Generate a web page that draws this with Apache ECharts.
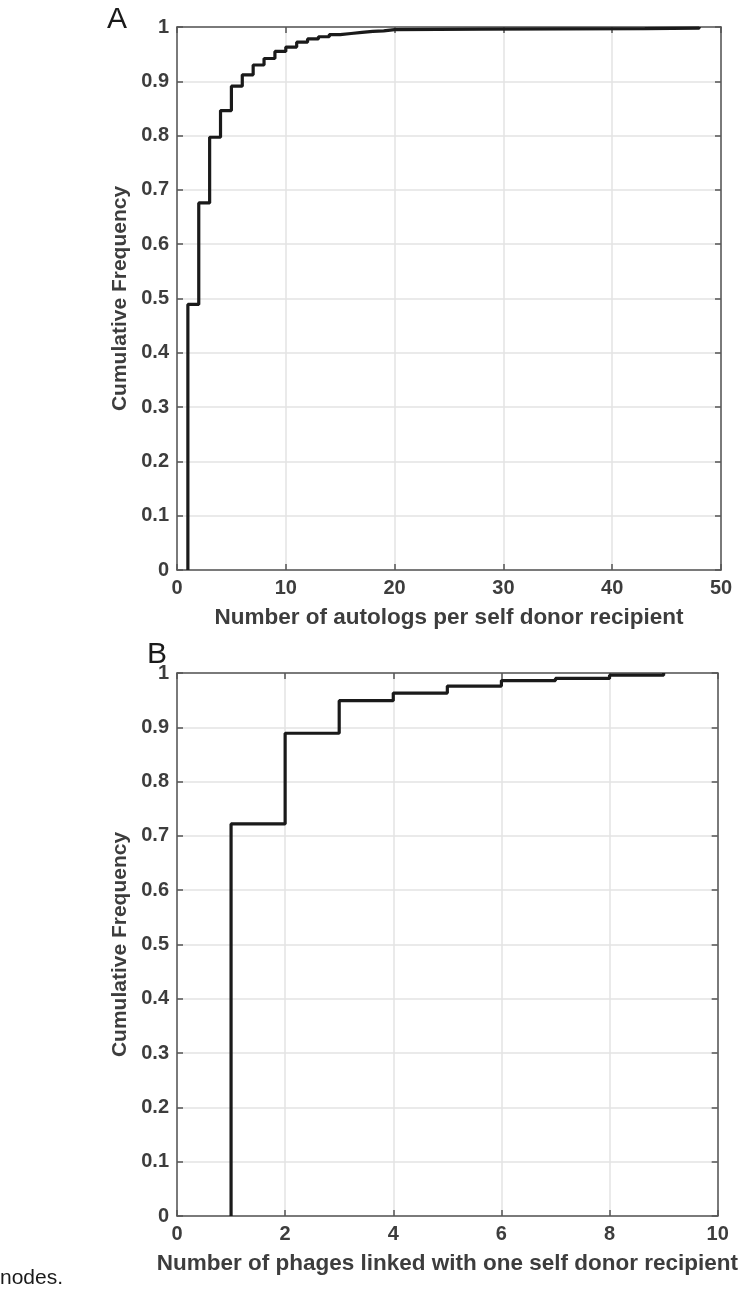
<!DOCTYPE html>
<html>
<head>
<meta charset="utf-8">
<script src="https://cdn.jsdelivr.net/npm/echarts@6/dist/echarts.min.js"></script>
<style>
html,body{margin:0;padding:0;background:#fff;}
#c{width:740px;height:1298px;}
</style>
</head>
<body>
<div id="c"></div>
<script>
// Panel A: cumulative frequency of autologs per self donor recipient
const autologX = [1, 1, 2, 3, 4, 5, 6, 7, 8, 9, 10, 11, 12, 13, 14, 15, 16, 17, 18, 19, 20, 28, 43, 48];
const autologY = [0, 0.489, 0.676, 0.797, 0.846, 0.891, 0.912, 0.930, 0.942, 0.955, 0.963, 0.972, 0.978, 0.982, 0.986, 0.988, 0.990, 0.992, 0.993, 0.995, 0.996, 0.997, 0.998, 1.0];
// Panel B: cumulative frequency of phages linked with one self donor recipient
const phageX = [1, 1, 2, 3, 4, 5, 6, 7, 8, 9];
const phageY = [0, 0.722, 0.889, 0.949, 0.963, 0.976, 0.986, 0.990, 0.996, 1.0];

const xTitleA = 'Number of autologs per self donor recipient';
const xTitleB = 'Number of phages linked with one self donor recipient';
const yTitle = 'Cumulative Frequency';

const FONT = '"Liberation Sans", Arial, Helvetica, sans-serif';
const TXT = '#3d3d3d';
const AX = '#555555';
const GRID = '#e3e3e3';

const gridsPx = [
  {left: 177, top: 27, width: 544, height: 543},
  {left: 177, top: 673, width: 544, height: 543}
];
const xSpec = [{min: 0, max: 50, interval: 10}, {min: 0, max: 10, interval: 2}];

const xAxes = [], yAxes = [];
[0, 1].forEach(i => {
  xAxes.push({
    type: 'value', gridIndex: i, position: 'bottom',
    min: xSpec[i].min, max: xSpec[i].max, interval: xSpec[i].interval,
    name: i === 0 ? xTitleA : xTitleB, nameLocation: 'middle', nameGap: 36,
    nameTextStyle: {fontFamily: FONT, fontWeight: 'bold', fontSize: 22.5, color: TXT},
    axisLine: {show: true, onZero: false, lineStyle: {color: AX, width: 1.5}},
    axisTick: {show: true, inside: true, length: 6, lineStyle: {color: AX, width: 1.5}},
    axisLabel: {fontFamily: FONT, fontWeight: 'bold', fontSize: 20, color: TXT, margin: 8},
    splitLine: {show: true, lineStyle: {color: GRID, width: 1.5}}
  });
  xAxes.push({
    type: 'value', gridIndex: i, position: 'top',
    min: xSpec[i].min, max: xSpec[i].max, interval: xSpec[i].interval,
    axisLine: {show: true, onZero: false, lineStyle: {color: AX, width: 1.5}},
    axisTick: {show: true, inside: true, length: 6, lineStyle: {color: AX, width: 1.5}},
    axisLabel: {show: false}, splitLine: {show: false}
  });
  yAxes.push({
    type: 'value', gridIndex: i, position: 'left',
    min: 0, max: 1, interval: 0.1,
    name: yTitle, nameLocation: 'middle', nameGap: 36, nameRotate: 90,
    nameTextStyle: {fontFamily: FONT, fontWeight: 'bold', fontSize: 21, color: TXT},
    axisLine: {show: true, onZero: false, lineStyle: {color: AX, width: 1.5}},
    axisTick: {show: true, inside: true, length: 6, lineStyle: {color: AX, width: 1.5}},
    axisLabel: {fontFamily: FONT, fontWeight: 'bold', fontSize: 20, color: TXT, margin: 8,
      formatter: v => String(+v.toFixed(1))},
    splitLine: {show: true, lineStyle: {color: GRID, width: 1.5}}
  });
  yAxes.push({
    type: 'value', gridIndex: i, position: 'right',
    min: 0, max: 1, interval: 0.1,
    axisLine: {show: true, onZero: false, lineStyle: {color: AX, width: 1.5}},
    axisTick: {show: true, inside: true, length: 6, lineStyle: {color: AX, width: 1.5}},
    axisLabel: {show: false}, splitLine: {show: false}
  });
});

const chart = echarts.init(document.getElementById('c'), null, {renderer: 'canvas'});
chart.setOption({
  animation: false,
  backgroundColor: '#ffffff',
  grid: gridsPx.map(g => Object.assign({containLabel: false}, g)),
  xAxis: xAxes,
  yAxis: yAxes,
  series: [
    {type: 'line', xAxisIndex: 0, yAxisIndex: 0, step: 'end', showSymbol: false,
     data: autologX.map((x, k) => [x, autologY[k]]),
     lineStyle: {color: '#1a1a1a', width: 3.2}, clip: false},
    {type: 'line', xAxisIndex: 2, yAxisIndex: 2, step: 'end', showSymbol: false,
     data: phageX.map((x, k) => [x, phageY[k]]),
     lineStyle: {color: '#1a1a1a', width: 3.2}, clip: false}
  ],
  graphic: [
    {type: 'text', left: 107, top: 5, style: {text: 'A', fontFamily: FONT, fontSize: 30, fill: '#1a1a1a'}},
    {type: 'text', left: 147, top: 640, style: {text: 'B', fontFamily: FONT, fontSize: 30, fill: '#1a1a1a'}},
    {type: 'text', left: 0, top: 1268, style: {text: 'nodes.', fontFamily: FONT, fontSize: 21, fill: '#1a1a1a'}}
  ]
});
</script>
</body>
</html>
